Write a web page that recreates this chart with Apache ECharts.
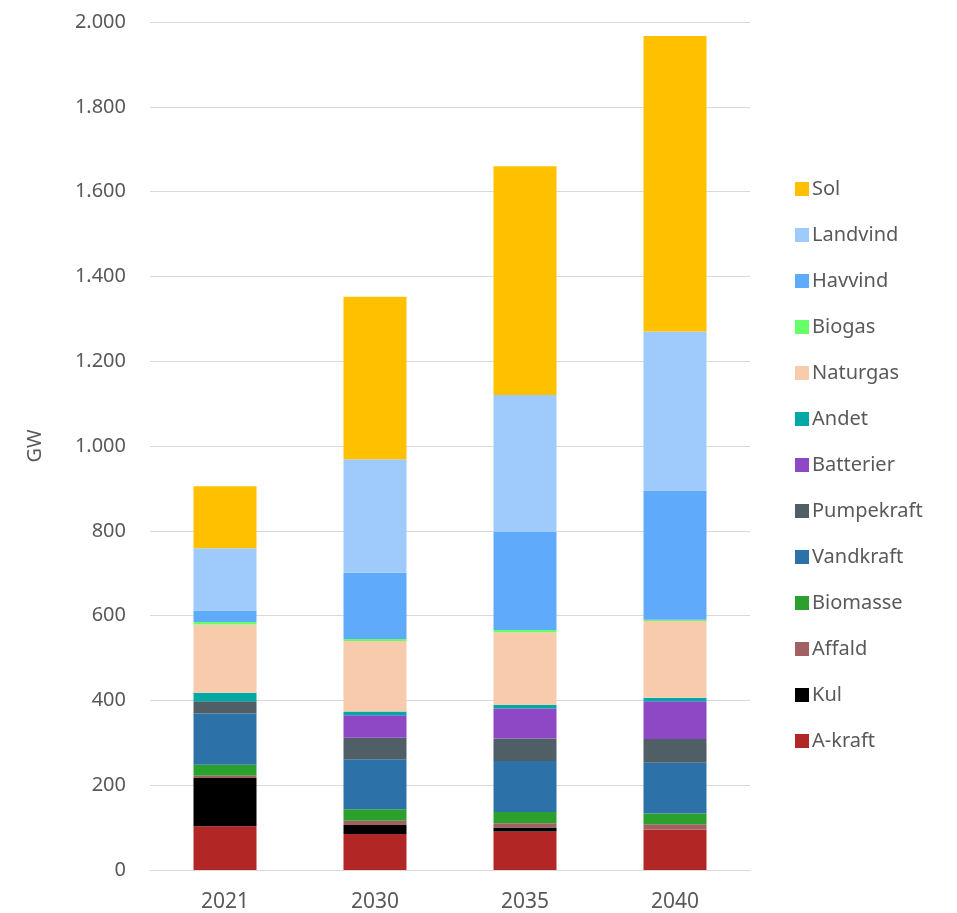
<!DOCTYPE html>
<html>
<head>
<meta charset="utf-8">
<script src="https://cdn.jsdelivr.net/npm/echarts@6/dist/echarts.min.js"></script>
<style>
html,body{margin:0;padding:0;background:#fff;}
#chart{width:957px;height:913px;}
</style>
</head>
<body>
<div id="chart"></div>
<script>
const categories = ['2021', '2030', '2035', '2040'];
const aKraft     = [103, 85, 91, 95];
const kul        = [114, 21, 9, 0];
const affald     = [5, 10, 10, 13];
const biomasse   = [26, 27, 27, 25];
const vandkraft  = [121, 118, 120, 120];
const pumpekraft = [29, 51, 53, 56];
const batterier  = [0, 53, 71, 89];
const andet      = [20, 9, 8, 8];
const naturgas   = [161, 166, 172, 181];
const biogas     = [6, 5, 5, 3];
const havvind    = [27, 156, 231, 305];
const landvind   = [147, 268, 323, 375];
const sol        = [146, 383, 540, 697];
const yAxisName = 'GW';

const seriesDefs = [
  ['A-kraft', aKraft, '#B22726'],
  ['Kul', kul, '#000000'],
  ['Affald', affald, '#A36062'],
  ['Biomasse', biomasse, '#2CA02C'],
  ['Vandkraft', vandkraft, '#2C72A8'],
  ['Pumpekraft', pumpekraft, '#505F66'],
  ['Batterier', batterier, '#8E48C6'],
  ['Andet', andet, '#00A9A5'],
  ['Naturgas', naturgas, '#F7CBAC'],
  ['Biogas', biogas, '#66FF66'],
  ['Havvind', havvind, '#60AAFC'],
  ['Landvind', landvind, '#9ECBFC'],
  ['Sol', sol, '#FFC000']
];

const font = 'Noto Sans';
const txt = '#595959';

const chart = echarts.init(document.getElementById('chart'));
chart.setOption({
  animation: false,
  backgroundColor: '#ffffff',
  grid: { left: 150, right: 207, top: 22, bottom: 41, containLabel: false },
  legend: {
    orient: 'vertical',
    left: 790,
    top: 173,
    itemWidth: 14,
    itemHeight: 14,
    itemGap: 24,
    icon: 'rect',
    data: seriesDefs.map(d => d[0]).slice().reverse(),
    textStyle: { fontFamily: font, fontSize: 20, color: txt, padding: [0, 0, 0, -2], lineHeight: 22 }
  },
  xAxis: {
    type: 'category',
    data: categories,
    axisTick: { show: false },
    axisLine: { lineStyle: { color: '#d9d9d9', width: 1 } },
    axisLabel: { fontFamily: font, fontSize: 21, color: txt, margin: 22 }
  },
  yAxis: {
    type: 'value',
    min: 0, max: 2000, interval: 200,
    name: yAxisName,
    nameLocation: 'middle',
    nameGap: 105,
    nameTextStyle: { fontFamily: font, fontSize: 20, color: txt },
    axisLine: { show: false },
    axisTick: { show: false },
    splitLine: { lineStyle: { color: '#d9d9d9', width: 1 } },
    axisLabel: {
      fontFamily: font, fontSize: 20, color: txt, margin: 24,
      formatter: v => String(v).replace(/\B(?=(\d{3})+(?!\d))/g, '.')
    }
  },
  series: seriesDefs.map(d => ({
    name: d[0],
    type: 'bar',
    stack: 'total',
    data: d[1],
    barWidth: 63,
    itemStyle: { color: d[2] }
  }))
});
</script>
</body>
</html>
